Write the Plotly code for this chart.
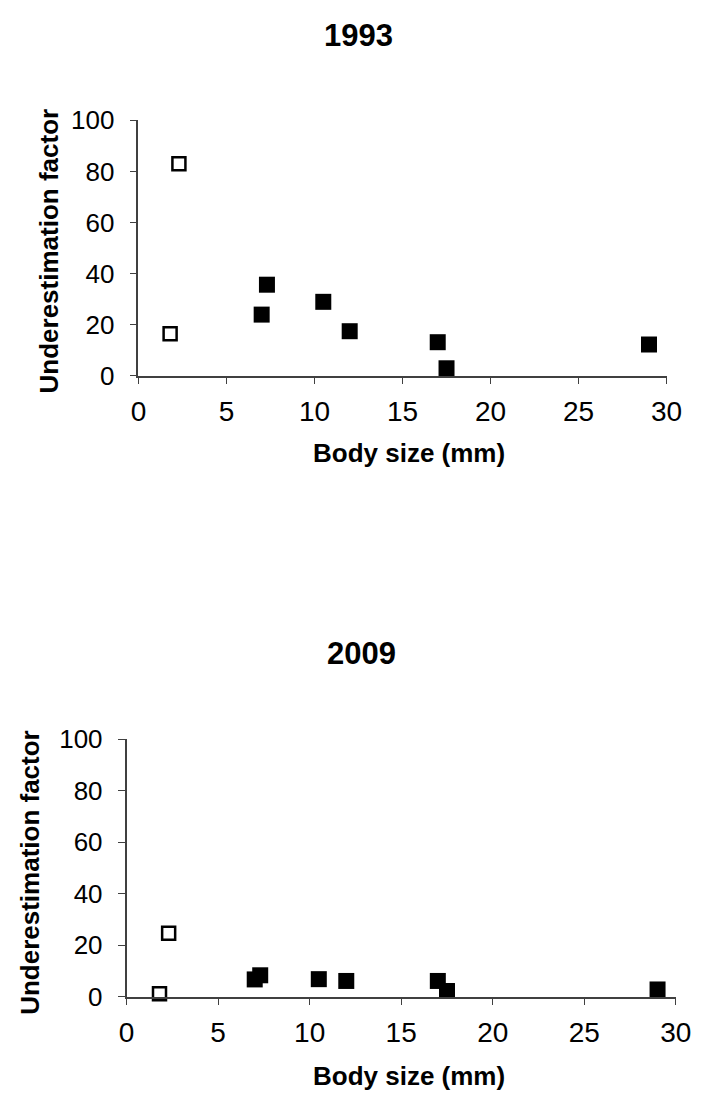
import plotly.graph_objects as go

W, H = 708, 1107

# ---- data ----
body_open = [1.8, 2.3]
body_filled = [7.0, 7.3, 10.5, 12.0, 17.0, 17.5, 29.0]

uf1993_open = [16.5, 83.0]
uf1993_filled = [24.0, 35.7, 29.0, 17.5, 13.2, 3.0, 12.3]

uf2009_open = [1.2, 24.7]
uf2009_filled = [6.8, 8.4, 6.9, 6.2, 6.2, 2.3, 2.9]

titles = ["1993", "2009"]
x_ticks = [0, 5, 10, 15, 20, 25, 30]
y_ticks = [0, 20, 40, 60, 80, 100]
x_title = "Body size (mm)"
y_title = "Underestimation factor"

FONT = "Liberation Sans, Arial, sans-serif"
AXC = "#404040"

def px_x(p):
    return p / W

def px_y(p):
    return 1 - p / H

fig = go.Figure()

panels = [
    dict(xa="x", ya="y", open=uf1993_open, filled=uf1993_filled,
         xdom=[px_x(135), px_x(681.7)], ydom=[px_y(371), px_y(108.3)],
         title_xy=(363, 21), xt_xy=(415, 450), yt_xy=(42.5, 243)),
    dict(xa="x2", ya="y2", open=uf2009_open, filled=uf2009_filled,
         xdom=[px_x(122.7), px_x(691.3)], ydom=[px_y(1009.3), px_y(744.3)],
         title_xy=(366, 656), xt_xy=(415, 1090.5), yt_xy=(22.5, 881)),
]

annotations = []
for i, p in enumerate(panels):
    fig.add_trace(go.Scatter(
        x=body_filled, y=p["filled"], mode="markers", xaxis=p["xa"], yaxis=p["ya"],
        marker=dict(symbol="square", size=16, color="black", line=dict(width=0)),
        showlegend=False, cliponaxis=False))
    fig.add_trace(go.Scatter(
        x=body_open, y=p["open"], mode="markers", xaxis=p["xa"], yaxis=p["ya"],
        marker=dict(symbol="square", size=13, color="white", line=dict(width=2.5, color="black")),
        showlegend=False, cliponaxis=False))
    suffix = "" if i == 0 else "2"
    fig.update_layout({
        "xaxis" + suffix: dict(
            domain=p["xdom"], range=[0, 30], anchor="y" + suffix,
            tickvals=x_ticks, ticks="outside", ticklen=6, tickwidth=1.3, tickcolor=AXC,
            showline=True, linecolor=AXC, linewidth=1.5, showgrid=False, zeroline=False,
            tickfont=dict(family=FONT, size=28, color="black"), ticklabelstandoff=4,
            fixedrange=True),
        "yaxis" + suffix: dict(
            domain=p["ydom"], range=[0, 100], anchor="x" + suffix,
            tickvals=y_ticks, ticks="outside", ticklen=7, tickwidth=1.3, tickcolor=AXC,
            showline=True, linecolor=AXC, linewidth=1.5, showgrid=False, zeroline=False,
            tickfont=dict(family=FONT, size=26, color="black"), ticklabelstandoff=10,
            fixedrange=True),
    })
    tx, ty = p["title_xy"]
    annotations.append(dict(text="<b>%s</b>" % titles[i], x=px_x(tx), y=px_y(ty),
                            xref="paper", yref="paper", xanchor="center", yanchor="middle",
                            showarrow=False, font=dict(family=FONT, size=31, color="black")))
    xx, xy = p["xt_xy"]
    annotations.append(dict(text="<b>%s</b>" % x_title, x=px_x(xx), y=px_y(xy),
                            xref="paper", yref="paper", xanchor="center", yanchor="middle",
                            showarrow=False, font=dict(family=FONT, size=26, color="black")))
    yx, yy = p["yt_xy"]
    annotations.append(dict(text="<b>%s</b>" % y_title, x=px_x(yx), y=px_y(yy),
                            xref="paper", yref="paper", xanchor="center", yanchor="middle",
                            textangle=-90,
                            showarrow=False, font=dict(family=FONT, size=26, color="black")))

fig.update_layout(
    width=W, height=H, margin=dict(l=0, r=0, t=0, b=0),
    paper_bgcolor="white", plot_bgcolor="white",
    annotations=annotations, showlegend=False,
)

fig.write_html(
    "out.html",
    config={"displayModeBar": False},
    post_script="document.body.style.margin='0';document.body.style.overflow='hidden';",
)
